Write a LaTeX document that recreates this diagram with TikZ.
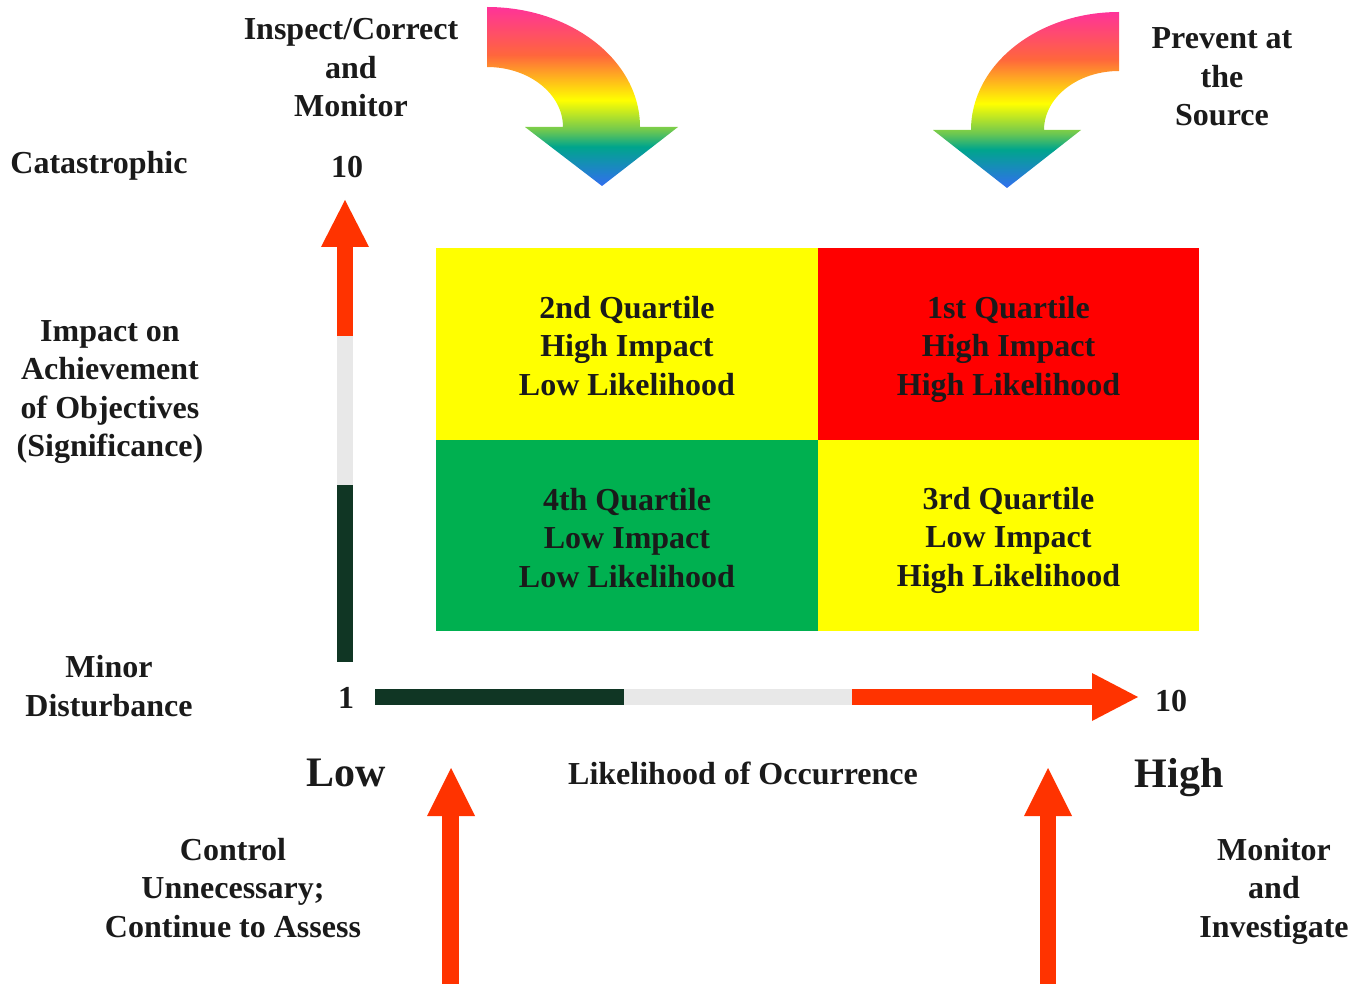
\documentclass[tikz,border=0pt]{standalone}
\usepackage{fontspec}
\setmainfont{Liberation Serif}

\definecolor{txt}{RGB}{26,26,26}
\definecolor{axgreen}{RGB}{16,54,36}
\definecolor{axgray}{RGB}{232,232,232}
\definecolor{axred}{RGB}{255,51,0}
\definecolor{qyellow}{RGB}{255,255,0}
\definecolor{qred}{RGB}{255,0,0}
\definecolor{qgreen}{RGB}{0,176,80}
\definecolor{rbPink}{RGB}{255,51,153}
\definecolor{rbOrange}{RGB}{255,102,60}
\definecolor{rbYellow}{RGB}{255,255,0}
\definecolor{rbGreen}{RGB}{110,200,80}
\definecolor{rbTeal}{RGB}{0,165,140}
\definecolor{rbBlue}{RGB}{50,110,240}

\pgfdeclareverticalshading{rainbowarrow}{100bp}{color(0bp)=(rbBlue); color(25bp)=(rbBlue);
  color(36bp)=(rbTeal); color(40.6bp)=(rbGreen); color(49bp)=(rbYellow);
  color(61.6bp)=(rbOrange); color(75bp)=(rbPink); color(100bp)=(rbPink)}

\tikzset{
  lbl/.style={font=\fontsize{16}{19.25}\selectfont\bfseries, text=txt, align=center, inner sep=0pt},
  biglbl/.style={lbl, font=\fontsize{21}{24}\selectfont\bfseries}
}

\begin{document}
\begin{tikzpicture}[x=0.5pt, y=-0.5pt]
        \useasboundingbox (0,0) rectangle (1361,984);

        % Quartiles
        \fill[qyellow] (436,248) rectangle (818,440);
        \fill[qred] (818,248) rectangle (1199,440);
        \fill[qgreen] (436,440) rectangle (818,631);
        \fill[qyellow] (818,440) rectangle (1199,631);
        \node[lbl] (q2) at (627,346) {2nd Quartile\\High Impact\\Low Likelihood};
        \node[lbl] (q1) at (1008.5,349) {1st Quartile\\High Impact\\High Likelihood};
        \node[lbl] (q4) at (627,538) {4th Quartile\\Low Impact\\Low Likelihood};
        \node[lbl] (q3) at (1008.5,540) {3rd Quartile\\Low Impact\\High Likelihood};

        % Vertical axis
        \fill[axgreen] (337,485) rectangle (353,662);
        \fill[axgray] (337,336) rectangle (353,485);
        \fill[axred] (337,247) rectangle (353,336);
        \fill[axred] (321,247) -- (345,200) -- (369,247) -- cycle;

        % Horizontal axis
        \fill[axgreen] (375,689) rectangle (624,705);
        \fill[axgray] (624,689) rectangle (852,705);
        \fill[axred] (852,689) rectangle (1092,705);
        \fill[axred] (1092,673) -- (1138,697) -- (1092,721) -- cycle;

        % Arrows from below
        \fill[axred] (442,816) rectangle (459,984);
        \fill[axred] (427,816) -- (451,768) -- (475,816) -- cycle;
        \fill[axred] (1040,816) rectangle (1056,984);
        \fill[axred] (1024,816) -- (1048,768) -- (1072,816) -- cycle;

        % Curved arrows
        \shade[shading=rainbowarrow] (487,7) arc[start angle=-90, end angle=0, x radius=153, y radius=120]
            -- (678,127) -- (602,186) -- (525,127) -- (563,127)
            arc[start angle=0, end angle=-90, x radius=76, y radius=60] -- cycle;
        \shade[shading=rainbowarrow] (1119,12) arc[start angle=-90, end angle=-180, x radius=148, y radius=118]
            -- (933,130) -- (1007,188) -- (1081,130) -- (1044,130)
            arc[start angle=-180, end angle=-90, x radius=75, y radius=59] -- cycle;

        % Labels
        \node[lbl] (inspect) at (351,68) {Inspect/Correct\\and\\Monitor};
        \node[lbl] (prevent) at (1222,77) {Prevent at\\the\\Source};
        \node[lbl] (catas) at (99,166) {Catastrophic};
        \node[lbl] (ytop) at (347,167) {10};
        \node[lbl] (impact) at (110,392) {Impact on\\Achievement\\of Objectives\\(Significance)};
        \node[lbl] (minor) at (109,686) {Minor\\Disturbance};
        \node[lbl] (ybot) at (346,698) {1};
        \node[lbl] (xtop) at (1171,701) {10};
        \node[biglbl] (low) at (346,773) {Low};
        \node[lbl] (likely) at (743,773) {Likelihood of Occurrence};
        \node[biglbl] (high) at (1179,778) {High};
        \node[lbl] (control) at (233,888) {Control\\Unnecessary;\\Continue to Assess};
        \node[lbl] (monitor) at (1274,891) {Monitor\\and\\Investigate};

    \end{tikzpicture}
\end{document}
